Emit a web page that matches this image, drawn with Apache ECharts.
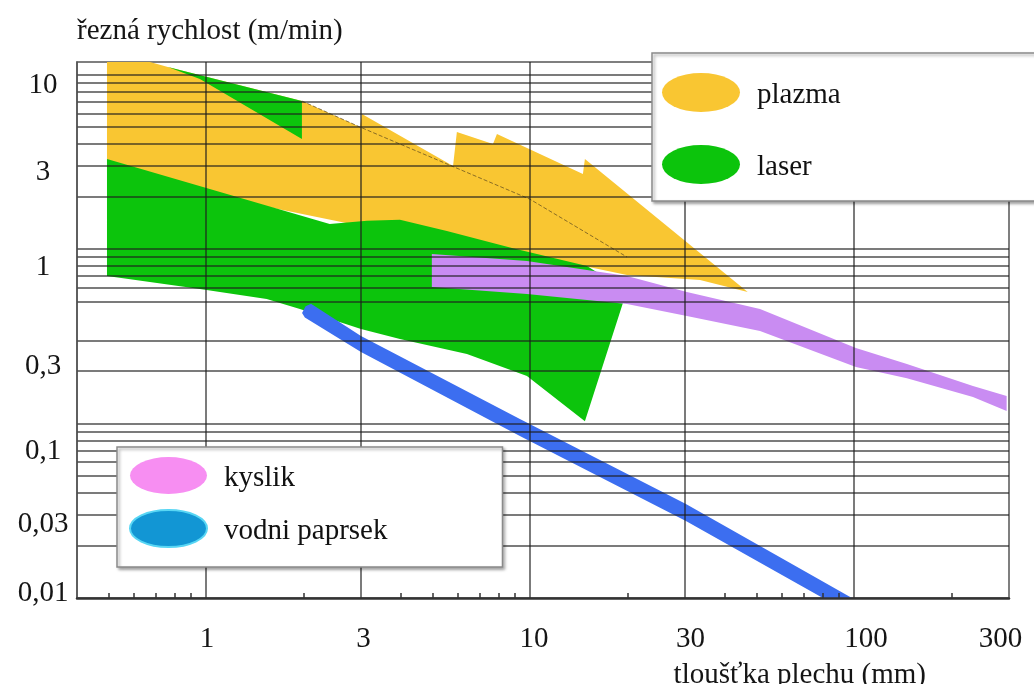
<!DOCTYPE html>
<html>
<head>
<meta charset="utf-8">
<script src="https://cdn.jsdelivr.net/npm/echarts@6/dist/echarts.min.js"></script>
<style>
html,body{margin:0;padding:0;background:#ffffff;}
#chart{width:1034px;height:684px;}
</style>
</head>
<body>
<div id="chart"></div>
<script>
// ---------- data ----------
const seriesNames = ['plazma', 'laser', 'kyslik', 'vodni paprsek'];

const xLabelValues = [1, 3, 10, 30, 100, 300];
const xLabelTexts = ['1', '3', '10', '30', '100', '300'];
const xMinorTickValues = [0.5, 0.6, 0.7, 0.8, 0.9, 2, 4, 5, 6, 7, 8, 9, 20, 40, 50, 60, 70, 80, 90, 200];
const xGridValues = [1, 3, 10, 30, 100];

const yLabelValues = [0.01, 0.03, 0.1, 0.3, 1, 3, 10];
const yLabelTexts = ['0,01', '0,03', '0,1', '0,3', '1', '3', '10'];
const yGridValues = [0.02, 0.03, 0.04, 0.05, 0.06, 0.07, 0.08, 0.09,
  0.1, 0.2, 0.3, 0.5, 0.6, 0.7, 0.8, 0.9,
  1, 2, 3, 4, 5, 6, 7, 8, 9, 10];

// plasma region outline [thickness mm, speed m/min]
const plazma = [
  [0.495, 11.8], [0.672, 11.8], [0.763, 11.04], [1.978, 7.05], [2.99, 5.0],
  [3.03, 5.94], [5.79, 2.99], [5.95, 4.68], [7.69, 4.0], [7.91, 4.56],
  [14.57, 2.69], [14.78, 3.28], [47.0, 0.567], [33.5, 0.664], [19.93, 0.71],
  [12.38, 0.853], [3.97, 1.22], [0.495, 2.69]
];
// thin dashed edge inside the plasma region
const plazmaEdge = [[1.978, 7.05], [2.99, 5.0], [10, 1.93], [19.93, 0.90]];

// laser region (main band + upper wedge)
const laser = [
  [0.495, 3.28], [2.41, 1.39], [3.14, 1.45], [3.97, 1.47], [5.54, 1.27],
  [8.86, 1.01], [15.0, 0.80], [19.9, 0.574], [14.78, 0.103], [9.79, 0.187],
  [6.39, 0.25], [3.97, 0.305], [3.01, 0.348], [1.95, 0.453], [1.54, 0.517],
  [0.958, 0.59], [0.495, 0.70]
];
const laserWedge = [[0.763, 11.04], [1.978, 7.05], [1.978, 4.27], [0.958, 9.42]];

// oxygen (kyslik) band
const kyslik = [
  [4.98, 0.936], [9.79, 0.853], [19.93, 0.70], [30.5, 0.567], [51.3, 0.453],
  [101.4, 0.271], [145.7, 0.219], [233, 0.164], [296, 0.144],
  [296, 0.118], [233, 0.142], [145.7, 0.182], [101.4, 0.211], [51.3, 0.339],
  [30.5, 0.413], [19.93, 0.484], [9.79, 0.552], [4.98, 0.606]
];

// water jet (vodni paprsek) band
const vodniPaprsek = [
  [1.98, 0.43], [2.03, 0.47], [2.11, 0.485], [3.01, 0.317], [9.31, 0.106],
  [30.3, 0.0346], [98.6, 0.01], [80.2, 0.01], [30.3, 0.0276], [9.31, 0.0848],
  [3.01, 0.257], [2.02, 0.405]
];

// ---------- styles ----------
const FONT = 'Liberation Serif';
const FS = 29;
const colors = {
  plazma: '#f9c632', laser: '#0cc40c', kyslik: '#c98cf2', vodni: '#3c6ef0',
  legendKyslik: '#f78ef2', legendVodni: '#1296d4'
};
const yLabelShift = [-5, 10, 28, 26, 18, 7, 11];
const xLabelShift = [1, 3, 4, 6, 12, -8];
const gridLineStyle = {color: 'rgba(30,30,30,0.78)', width: 1.5};

function idxOf(arr, v) {
  for (let i = 0; i < arr.length; i++) {
    if (Math.abs(Math.log10(arr[i]) - Math.log10(v)) < 1e-6) return i;
  }
  return -1;
}
function makeRich(prefix, shifts, vertical) {
  const r = {};
  shifts.forEach(function (d, i) {
    let pad;
    if (vertical) pad = d >= 0 ? [2 * d, 0, 0, 0] : [0, 0, -2 * d, 0];
    else pad = d >= 0 ? [0, 0, 0, 2 * d] : [0, -2 * d, 0, 0];
    r[prefix + i] = {padding: pad, fontSize: FS, fontFamily: FONT, color: '#151515'};
  });
  return r;
}

function polygonSeries(name, polys, color, z) {
  return {
    type: 'custom',
    name: name,
    coordinateSystem: 'cartesian2d',
    clip: true,
    z: z,
    silent: true,
    itemStyle: {color: color},
    data: polys[0],
    renderItem: function (params, api) {
      if (params.dataIndex !== 0) return null;
      return {
        type: 'group',
        children: polys.map(function (poly) {
          return {
            type: 'polygon',
            shape: {points: poly.map(function (p) { return api.coord(p); })},
            style: {fill: color}
          };
        })
      };
    }
  };
}

const ellipseIcon = 'path://M0,10A10,10,0,1,1,20,10A10,10,0,1,1,0,10Z';
const legendText = {
  color: '#111',
  fontFamily: FONT,
  fontSize: FS,
  rich: {t: {padding: [5, 0, 0, 12], fontFamily: FONT, fontSize: FS, color: '#111'}}
};
const legendBox = {
  backgroundColor: '#ffffff',
  borderColor: '#8a8a8a',
  borderWidth: 1.5,
  shadowColor: 'rgba(0,0,0,0.35)',
  shadowBlur: 3,
  shadowOffsetX: 2,
  shadowOffsetY: 2
};

const chart = echarts.init(document.getElementById('chart'), null, {renderer: 'canvas'});
chart.setOption({
  animation: false,
  backgroundColor: '#ffffff',
  textStyle: {fontFamily: FONT},
  grid: {left: 77, right: 25, top: 62, bottom: 86, show: true, containLabel: false,
    outerBoundsMode: 'none',
    borderColor: '#555', borderWidth: 1.5, backgroundColor: 'transparent'},
  legend: [
    Object.assign({
      orient: 'vertical', left: 652, top: 53, z: 20,
      padding: [20, 200, 17, 10], itemWidth: 78, itemHeight: 39, itemGap: 33,
      icon: ellipseIcon, symbolKeepAspect: false, selectedMode: false,
      formatter: '{t|{name}}', textStyle: legendText,
      data: [
        {name: seriesNames[0], itemStyle: {color: colors.plazma}},
        {name: seriesNames[1], itemStyle: {color: colors.laser}}
      ]
    }, legendBox),
    Object.assign({
      orient: 'vertical', left: 117, top: 447, z: 20,
      padding: [10, 115, 19, 12], itemWidth: 77, itemHeight: 37, itemGap: 15,
      icon: ellipseIcon, symbolKeepAspect: false, selectedMode: false,
      formatter: '{t|{name}}', textStyle: legendText,
      data: [
        {name: seriesNames[2], itemStyle: {color: colors.legendKyslik}},
        {name: seriesNames[3], itemStyle: {color: colors.legendVodni, borderColor: '#58d6f4', borderWidth: 2}}
      ]
    }, legendBox)
  ],
  xAxis: [
    {
      type: 'log', logBase: 10, min: 0.4, max: 301, position: 'bottom', z: 10,
      name: 'tloušťka plechu (mm)', nameLocation: 'end', nameGap: -83,
      nameTextStyle: {fontFamily: FONT, fontSize: FS, color: '#151515', align: 'right',
        verticalAlign: 'top', padding: [63, 0, 0, 0]},
      axisLine: {show: true, lineStyle: {color: '#333', width: 2.5}},
      axisTick: {show: true, inside: true, length: 5, customValues: xMinorTickValues,
        lineStyle: {color: '#333', width: 1.5}},
      axisLabel: {
        customValues: xLabelValues, margin: 27, fontFamily: FONT, fontSize: FS,
        formatter: function (v) { const i = idxOf(xLabelValues, v); return i < 0 ? '' : '{x' + i + '|' + xLabelTexts[i] + '}'; },
        rich: makeRich('x', xLabelShift, false)
      },
      splitLine: {show: false},
      minorTick: {show: false}
    },
    {
      type: 'log', logBase: 10, min: 0.4, max: 301, position: 'bottom', z: 10,
      axisLine: {show: false},
      axisTick: {show: false, customValues: xGridValues},
      axisLabel: {show: false},
      splitLine: {show: true, lineStyle: gridLineStyle}
    }
  ],
  yAxis: {
    type: 'log', logBase: 10, min: 0.01, max: 11.8, z: 10,
    name: 'řezná rychlost (m/min)', nameLocation: 'end', nameGap: 16,
    nameTextStyle: {fontFamily: FONT, fontSize: FS, color: '#151515', align: 'left'},
    axisLine: {show: true, lineStyle: {color: '#555', width: 1.5}},
    axisTick: {show: false, customValues: yGridValues},
    axisLabel: {
      customValues: yLabelValues, margin: 34, align: 'center', fontFamily: FONT, fontSize: FS,
      formatter: function (v) { const i = idxOf(yLabelValues, v); return i < 0 ? '' : '{y' + i + '|' + yLabelTexts[i] + '}'; },
      rich: makeRich('y', yLabelShift, true)
    },
    splitLine: {show: true, lineStyle: gridLineStyle},
    minorTick: {show: false}
  },
  series: [
    polygonSeries(seriesNames[0], [plazma], colors.plazma, 2),
    {
      type: 'line', name: 'plazma-edge', data: plazmaEdge, z: 3, silent: true,
      symbol: 'none', lineStyle: {type: 'dashed', color: 'rgba(90,70,30,0.7)', width: 1}
    },
    polygonSeries(seriesNames[1], [laser, laserWedge], colors.laser, 4),
    polygonSeries(seriesNames[2], [kyslik], colors.kyslik, 5),
    polygonSeries(seriesNames[3], [vodniPaprsek], colors.vodni, 6)
  ]
});
</script>
</body>
</html>
